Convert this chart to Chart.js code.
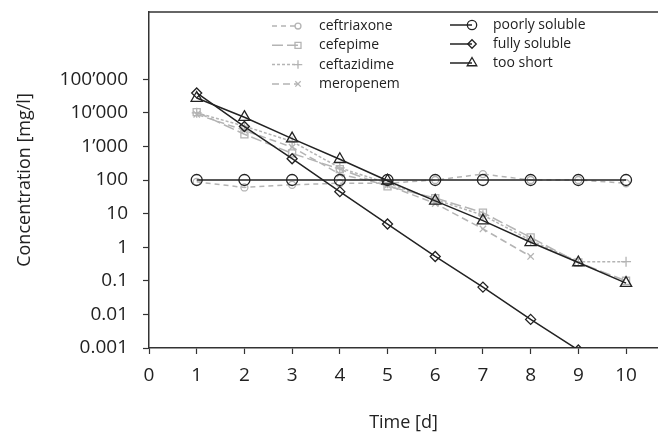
<!DOCTYPE html>
<html>
<head>
<meta charset="utf-8">
<script src="https://cdn.jsdelivr.net/npm/chart.js@4/dist/chart.umd.min.js"></script>
<style>
  body { margin: 0; background: #fff; overflow: hidden; }
  #wrap { width: 658px; height: 435px; }
</style>
</head>
<body>
<div id="wrap"><canvas id="myChart"></canvas></div>
<script>
// days on the x axis
var days = [1, 2, 3, 4, 5, 6, 7, 8, 9, 10];

// measured antibiotics (gray)
var ceftriaxone = [88, 60, 72, 80, 80, 100, 150, 100, 100, 80];
var cefepime    = [10500, 2300, 620, 210, 65, 29, 10.7, 1.95, 0.35, 0.1];
var ceftazidime = [10000, 4000, 1400, 230, 80, 26, 9, 1.6, 0.37, 0.37];
var meropenem   = [9000, 3000, 950, 150, 70, 20, 3.5, 0.53, null, null];

// model curves (black)
var poorlySoluble = [100, 100, 100, 100, 100, 100, 100, 100, 100, 100];
var fullySoluble  = [39000, 3900, 430, 45, 4.9, 0.53, 0.065, 0.0071, 0.00087, 0.0001];
var tooShort      = [27500, 7400, 1700, 415, 95, 24, 6.2, 1.4, 0.35, 0.085];

// ticks
var xTicks = [0, 1, 2, 3, 4, 5, 6, 7, 8, 9, 10];
var yTicks = [0.001, 0.01, 0.1, 1, 10, 100, 1000, 10000, 100000];
var yTickLabels = ["0.001", "0.01", "0.1", "1", "10", "100", "1\u2019000", "10\u2019000", "100\u2019000"];

function pts(vals) {
  return days.map(function (d, i) { return { x: d, y: vals[i] }; });
}

var gray = "#b4b4b4";
var black = "#222222";
var FONT = "'Open Sans', 'Noto Sans', sans-serif";

function grayDs(label, vals, style, radius, dash) {
  return {
    label: label, data: pts(vals), order: 2,
    borderColor: gray, borderWidth: 1.5, borderDash: dash,
    pointStyle: style, pointRadius: radius, pointBorderColor: gray,
    pointBorderWidth: 1.3, pointBackgroundColor: "rgba(0,0,0,0)",
    spanGaps: false, col: 0
  };
}
function blackDs(label, vals, style, radius) {
  return {
    label: label, data: pts(vals), order: 1,
    borderColor: black, borderWidth: 1.5,
    pointStyle: style, pointRadius: radius, pointBorderColor: black,
    pointBorderWidth: 1.3, pointBackgroundColor: "rgba(0,0,0,0)", col: 1
  };
}

var datasets = [
  grayDs("ceftriaxone", ceftriaxone, "circle", 3.5, [5, 4]),
  grayDs("cefepime", cefepime, "rect", 5, [11, 4]),
  grayDs("ceftazidime", ceftazidime, "cross", 5, [3, 2]),
  grayDs("meropenem", meropenem, "crossRot", 4.5, [7, 4]),
  blackDs("poorly soluble", poorlySoluble, "circle", 5.5),
  blackDs("fully soluble", fullySoluble, "rectRot", 5),
  blackDs("too short", tooShort, "triangle", 6.5)
];

// two-column legend inside the plot
var legendPlugin = {
  id: "legendCols",
  afterDraw: function (chart) {
    var ctx = chart.ctx;
    var rows = [0, 0];
    var cols = [
      { x0: 272, x1: 298, tx: 319, y0: 26, dy: 19.3 },
      { x0: 450, x1: 472, tx: 493, y0: 25, dy: 19 }
    ];
    chart.data.datasets.forEach(function (ds) {
      var c = cols[ds.col];
      var y = c.y0 + rows[ds.col] * c.dy;
      rows[ds.col]++;
      ctx.save();
      ctx.strokeStyle = ds.borderColor;
      ctx.lineWidth = ds.borderWidth;
      ctx.setLineDash(ds.borderDash || []);
      ctx.beginPath();
      ctx.moveTo(c.x0, y);
      ctx.lineTo(c.x1, y);
      ctx.stroke();
      ctx.setLineDash([]);
      ctx.strokeStyle = ds.pointBorderColor;
      ctx.fillStyle = "rgba(0,0,0,0)";
      ctx.lineWidth = ds.pointBorderWidth;
      Chart.helpers.drawPoint(ctx, {
        pointStyle: ds.pointStyle, radius: ds.pointRadius * 0.85, rotation: 0,
        borderWidth: ds.pointBorderWidth
      }, c.x1, y);
      ctx.fillStyle = "#222";
      ctx.font = "14px " + FONT;
      ctx.textBaseline = "middle";
      ctx.textAlign = "left";
      ctx.fillText(ds.label, c.tx, y);
      ctx.restore();
    });
  }
};

function noPad(s) {
  s.paddingTop = 0; s.paddingBottom = 0; s.paddingLeft = 0; s.paddingRight = 0;
}

new Chart("myChart", {
  type: "line",
  data: { datasets: datasets },
  plugins: [legendPlugin],
  options: {
    responsive: true,
    maintainAspectRatio: false,
    animation: false,
    layout: { padding: 0, autoPadding: false },
    plugins: { legend: { display: false }, tooltip: { enabled: false } },
    scales: {
      x: {
        type: "linear", position: "bottom", min: 0, max: 10.67,
        afterBuildTicks: function (s) { s.ticks = xTicks.map(function (v) { return { value: v }; }); },
        afterFit: function (s) { s.height = 87; noPad(s); },
        grid: { drawOnChartArea: false, tickLength: 6, tickColor: "#333", tickWidth: 1.2 },
        border: { color: "#333", width: 1.5 },
        ticks: { color: "#222", font: { family: FONT, size: 19 }, padding: 10, maxRotation: 0 },
        title: { display: true, text: "Time [d]", color: "#222", font: { family: FONT, size: 18 }, padding: { top: 0, bottom: 1 } }
      },
      xTop: {
        type: "linear", position: "top", min: 0, max: 10.67,
        afterFit: function (s) { s.height = 12; noPad(s); },
        grid: { display: false },
        border: { display: true, color: "#666", width: 2 },
        ticks: { display: false }
      },
      y: {
        type: "logarithmic", position: "left", min: 0.001, max: 10000000,
        afterBuildTicks: function (s) { s.ticks = yTicks.map(function (v) { return { value: v }; }); },
        afterFit: function (s) { s.width = 149; noPad(s); },
        grid: { drawOnChartArea: false, tickLength: 6, tickColor: "#333", tickWidth: 1.2 },
        border: { color: "#333", width: 1.5 },
        ticks: {
          color: "#222", font: { family: FONT, size: 19 }, padding: 15,
          callback: function (v) {
            var i = yTicks.indexOf(v);
            return i >= 0 ? yTickLabels[i] : "";
          }
        },
        title: { display: true, text: "Concentration [mg/l]", color: "#222", font: { family: FONT, size: 18 }, padding: { top: 14, bottom: 0 } }
      }
    }
  }
});
</script>
</body>
</html>
